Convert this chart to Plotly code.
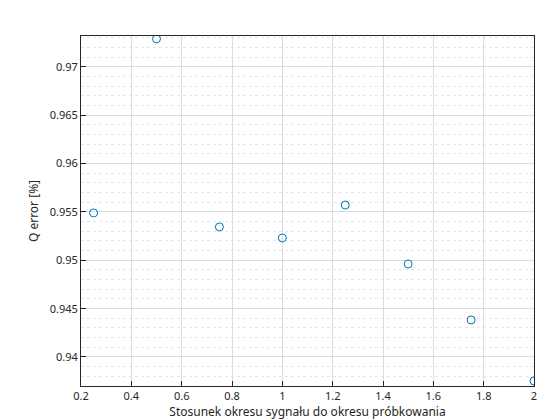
import plotly.graph_objects as go

ratio = [0.25, 0.5, 0.75, 1.0, 1.25, 1.5, 1.75, 2.0]
q_error = [0.9549, 0.9729, 0.95345, 0.95231, 0.95572, 0.94962, 0.94383, 0.93752]

fig = go.Figure(go.Scatter(
    x=ratio, y=q_error, mode="markers",
    marker=dict(symbol="circle-open", size=8, color="#0072BD", line=dict(width=1)),
))
axis_common = dict(
    showline=True, linecolor="#262626", linewidth=1, mirror=True,
    ticks="inside", ticklen=5, tickcolor="#262626",
    showgrid=True, gridcolor="#dcdcdc", gridwidth=1, zeroline=False,
    tickfont=dict(family="Noto Sans", size=11, color="#262626"), automargin=False,
)
fig.update_xaxes(range=[0.2, 2.0], dtick=0.2, tickformat=".1~f",
                 title=dict(text="Stosunek okresu sygnału do okresu próbkowania",
                 font=dict(family="Noto Sans", size=12, color="#262626"), standoff=5), **axis_common)
fig.update_yaxes(range=[0.937, 0.9732], dtick=0.005, tickformat=".3~f",
                 title=dict(text="Q error [%]", font=dict(family="Noto Sans", size=12, color="#262626"), standoff=8),
                 minor=dict(dtick=0.001, showgrid=True, gridcolor="#e6e6e6", griddash="dot"), **axis_common)
fig.update_layout(width=560, height=420, plot_bgcolor="white", paper_bgcolor="white",
                  margin=dict(l=73, r=34, t=28, b=42), showlegend=False)
fig.write_html("out.html")
